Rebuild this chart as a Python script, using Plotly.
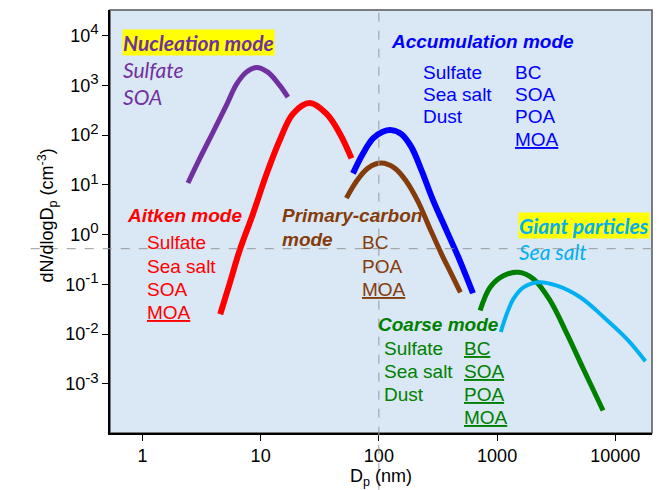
import plotly.graph_objects as go

# ---- data (D_p in nm, dN/dlogDp in cm^-3) ----
nuc_x = [2.43, 3.05, 3.96, 5.13, 6.24, 7.57, 9.2, 11.5, 14.5, 17.0]
nuc_y = [10.9, 33.6, 115, 396, 1050, 1850, 2300, 1850, 1000, 582]

ait_x = [4.55, 5.46, 6.64, 8.61, 11.2, 14.5, 18.8, 26.0, 36.0, 46.7, 58.7]
ait_y = [0.025, 0.102, 0.48, 2.6, 16.3, 79, 270, 440, 270, 108, 34]

acc_x = [60.4, 73.4, 89.2, 108, 128, 155, 188, 229, 287, 372, 482, 625]
acc_y = [17.0, 42.8, 85.8, 117, 126, 105, 58, 19.8, 4.94, 1.23, 0.307, 0.066]

pc_x = [53.1, 64.5, 80.9, 105, 136, 171, 214, 269, 338, 410, 489]
pc_y = [5.42, 11.7, 21.7, 27.4, 21.7, 11.7, 4.66, 1.36, 0.41, 0.162, 0.069]

coa_x = [718, 873, 1130, 1515, 2030, 2810, 3890, 5390, 7870]
coa_y = [0.0296, 0.087, 0.148, 0.174, 0.128, 0.047, 0.0102, 0.00194, 0.00029]

gia_x = [1074, 1208, 1374, 1670, 2240, 3200, 5050, 7950, 12550, 17950]
gia_y = [0.011, 0.0255, 0.051, 0.087, 0.11, 0.094, 0.055, 0.022, 0.0079, 0.00285]

x_tickvals = [1, 10, 100, 1000, 10000]
x_ticktext = ["1", "10", "100", "1000", "10000"]
y_tickvals = [1e-3, 1e-2, 1e-1, 1e0, 1e1, 1e2, 1e3, 1e4]
y_exps = ["-3", "-2", "-1", "0", "1", "2", "3", "4"]
y_ticktext = ["10<sup><span style='font-size:15px'>%s</span></sup>" % e for e in y_exps]

PURPLE = "#7030A0"
RED = "#FF0000"
BLUE = "#0000FF"
BROWN = "#843C0C"
GREEN = "#008000"
LBLUE = "#00B0F0"

# page is shown with an 8px body margin
OFF = 8
W, H = 672 - OFF, 490 - OFF
PL, PR, PT, PB = 110.3, 652.3, 10.0, 433.3   # plot box in page pixels
ML = round(PL - OFF)
MT = round(PT - OFF)
MR = round(W - (PR - OFF))
MB = round(H - (PB - OFF))


def px(x):
    return (x - PL) / (PR - PL)


def py(y):
    return (PB - y) / (PB - PT)


fig = go.Figure()
for xs, ys, c, w in [(nuc_x, nuc_y, PURPLE, 5), (ait_x, ait_y, RED, 6),
                     (acc_x, acc_y, BLUE, 6), (pc_x, pc_y, BROWN, 5),
                     (coa_x, coa_y, GREEN, 5), (gia_x, gia_y, LBLUE, 4)]:
    fig.add_trace(go.Scatter(x=xs, y=ys, mode="lines",
                             line=dict(color=c, width=w, shape="spline", smoothing=1.0),
                             showlegend=False, hoverinfo="skip"))

ARIAL = "Liberation Sans, Arial, sans-serif"
CAL = "Lato, Carlito, sans-serif"


def txt(s, x, y, color, size=19, family=ARIAL, bg=None):
    fig.add_annotation(text=s, x=px(x), y=py(y), xref="paper", yref="paper",
                       xanchor="left", yanchor="middle", showarrow=False,
                       font=dict(family=family, size=size, color=color),
                       bgcolor=bg, borderpad=0)


# Nucleation
txt("<b><i>Nucleation mode</i></b>", 122, 43, PURPLE, 21, CAL, "#FFFF00")
txt("<i>Sulfate</i>", 122, 70, PURPLE, 21, CAL)
txt("<i>SOA</i>", 122, 97, PURPLE, 21, CAL)
# Accumulation
txt("<b><i>Accumulation mode</i></b>", 390, 42, BLUE, 19)
for s, yy in zip(["Sulfate", "Sea salt", "Dust"], [73, 95, 117]):
    txt(s, 422, yy, BLUE)
for s, yy in zip(["BC", "SOA", "POA", "<u>MOA</u>"], [73, 95, 117, 140]):
    txt(s, 514, yy, BLUE)
# Aitken
txt("<b><i>Aitken mode</i></b>", 126, 216, RED, 19)
for s, yy in zip(["Sulfate", "Sea salt", "SOA", "<u>MOA</u>"], [243, 267, 290, 313]):
    txt(s, 146, yy, RED)
# Primary carbon
txt("<b><i>Primary-carbon</i></b>", 281, 216, BROWN, 19)
txt("<b><i>mode</i></b>", 281, 240, BROWN, 19)
for s, yy in zip(["BC", "POA", "<u>MOA</u>"], [243, 267, 290]):
    txt(s, 361, yy, BROWN)
# Giant
txt("<b><i>Giant particles</i></b>", 518, 226, LBLUE, 21, CAL, "#FFFF00")
txt("<i>Sea salt</i>", 518, 252, LBLUE, 21, CAL)
# Coarse
txt("<b><i>Coarse mode</i></b>", 377, 325, GREEN, 19)
for s, yy in zip(["Sulfate", "Sea salt", "Dust"], [349, 372, 395]):
    txt(s, 383, yy, GREEN)
for s, yy in zip(["<u>BC</u>", "<u>SOA</u>", "<u>POA</u>", "<u>MOA</u>"], [349, 372, 395, 418]):
    txt(s, 463, yy, GREEN)

# axis titles
fig.add_annotation(text="dN/dlogD<sub>p</sub> (cm<sup>-3</sup>)", x=px(48), y=py(216),
                   xref="paper", yref="paper", textangle=-90, showarrow=False,
                   xanchor="center", yanchor="middle",
                   font=dict(family=ARIAL, size=18, color="black"))
fig.add_annotation(text="D<sub>p</sub> (nm)", x=px(381), y=py(478),
                   xref="paper", yref="paper", showarrow=False,
                   xanchor="center", yanchor="middle",
                   font=dict(family=ARIAL, size=18, color="black"))

# frame and dashed guide lines
fig.add_shape(type="rect", xref="paper", yref="paper", x0=0, x1=1, y0=0, y1=1,
              line=dict(color="#555555", width=1.5), layer="below")
fig.add_shape(type="line", xref="x", yref="paper", x0=100, x1=100,
              y0=py(490), y1=py(8), line=dict(color="#999999", width=1, dash="dash"))
fig.add_shape(type="line", xref="paper", yref="y", x0=px(31), x1=px(658),
              y0=0.52, y1=0.52, line=dict(color="#999999", width=1, dash="dash"))

fig.update_xaxes(type="log", range=[-0.274, 4.31], tickvals=x_tickvals, ticktext=x_ticktext,
                 ticks="outside", ticklen=6, tickwidth=1, tickcolor="black",
                 showline=True, linecolor="black", linewidth=1.5, showgrid=False,
                 zeroline=False, tickfont=dict(family=ARIAL, size=18, color="black"))
fig.update_yaxes(type="log", range=[-3.99, 4.516], tickvals=y_tickvals, ticktext=y_ticktext,
                 ticks="outside", ticklen=6, tickwidth=1, tickcolor="black",
                 showline=True, linecolor="black", linewidth=1.5, showgrid=False,
                 zeroline=False, tickfont=dict(family=ARIAL, size=18, color="black"))

fig.update_layout(width=W, height=H, margin=dict(l=ML, r=MR, t=MT, b=MB),
                  paper_bgcolor="white", plot_bgcolor="#DAE7F4", showlegend=False)

fig.write_html("out.html")
